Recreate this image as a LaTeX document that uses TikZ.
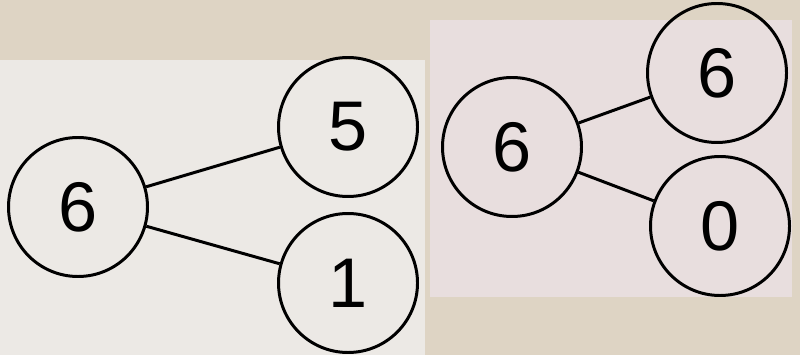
\documentclass[tikz,border=0pt]{standalone}
\usepackage{fontspec}
\setmainfont{Liberation Sans}
\usepackage{tikz}
\definecolor{wall}{RGB}{222,212,196}
\definecolor{sheetA}{RGB}{236,233,229}
\definecolor{sheetB}{RGB}{232,222,222}

\begin{document}
\begin{tikzpicture}[
  bond/.style={circle,draw,line width=1.7pt,minimum size=2.78cm,inner sep=0pt,
               font=\fontsize{40}{40}\selectfont},
  link/.style={line width=1.7pt}
]
\useasboundingbox (0,0) rectangle (16,7.1);
\fill[wall] (0,0) rectangle (16,7.1);
\fill[sheetA] (0,0) rectangle (8.5,5.9);
\fill[sheetB] (8.6,1.16) rectangle (15.84,6.7);

% left sheet
\node[bond] (whole)  at (1.56,2.96) {6};
\node[bond] (partA)  at (6.96,4.56) {5};
\node[bond] (partB)  at (6.96,1.44) {1};
\draw[link] (whole) -- (partA);
\draw[link] (whole) -- (partB);

% right sheet
\node[bond] (wholeR) at (10.24,4.16) {6};
\node[bond] (partC)  at (14.34,5.64) {6};
\node[bond] (partD)  at (14.40,2.58) {0};
\draw[link] (wholeR) -- (partC);
\draw[link] (wholeR) -- (partD);
\end{tikzpicture}
\end{document}
